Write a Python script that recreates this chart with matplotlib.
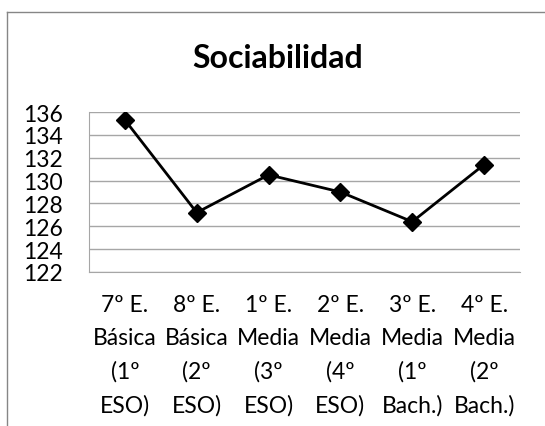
import numpy as np
import matplotlib as mpl
mpl.use('Agg')
import matplotlib.pyplot as plt
from matplotlib.lines import Line2D

# Data
categories = ['7º E.\nBásica\n(1º\nESO)', '8º E.\nBásica\n(2º\nESO)',
              '1º E.\nMedia\n(3º\nESO)', '2º E.\nMedia\n(4º\nESO)',
              '3º E.\nMedia\n(1º\nBach.)', '4º E.\nMedia\n(2º\nBach.)']
values = [135.3, 127.2, 130.5, 129.0, 126.4, 131.4]
yticks = [122, 124, 126, 128, 130, 132, 134, 136]
title = 'Sociabilidad'

plt.rcParams['font.family'] = ['Lato', 'DejaVu Sans']

fig = plt.figure(figsize=(5.45, 4.27), dpi=100)
ax = fig.add_axes([89/545, 1 - 273/427, (520 - 89)/545, (273 - 113)/427])

x = np.arange(len(values))
ax.plot(x, values, color='black', lw=2, marker='D', ms=9, mfc='black', mec='black', zorder=3)

ax.set_xlim(-0.5, len(values) - 0.5)
ax.set_ylim(122, 136)
ax.set_yticks(yticks)
ax.set_xticks(x)
ax.set_xticklabels(categories, linespacing=1.7)
ax.tick_params(axis='y', length=0, pad=19, labelsize=16.5)
ax.tick_params(axis='x', length=0, pad=16, labelsize=16.5)
ax.yaxis.grid(True, color='#a6a6a6', lw=1)
ax.set_axisbelow(True)
for s in ['top', 'right']:
    ax.spines[s].set_visible(False)
ax.spines['left'].set_color('#a6a6a6')
ax.spines['bottom'].set_color('#a6a6a6')

fig.text(277.5/545, 1 - 68/427, title, ha='center', va='baseline',
         fontsize=23, fontweight='bold')

# chart border (cropped at right and bottom)
fig.add_artist(Line2D([7/545, 7/545], [0, 1 - 13/427], color='#868686', lw=1))
fig.add_artist(Line2D([7/545, 1], [1 - 13/427, 1 - 13/427], color='#868686', lw=1))

fig.savefig('out.png', dpi=100)
